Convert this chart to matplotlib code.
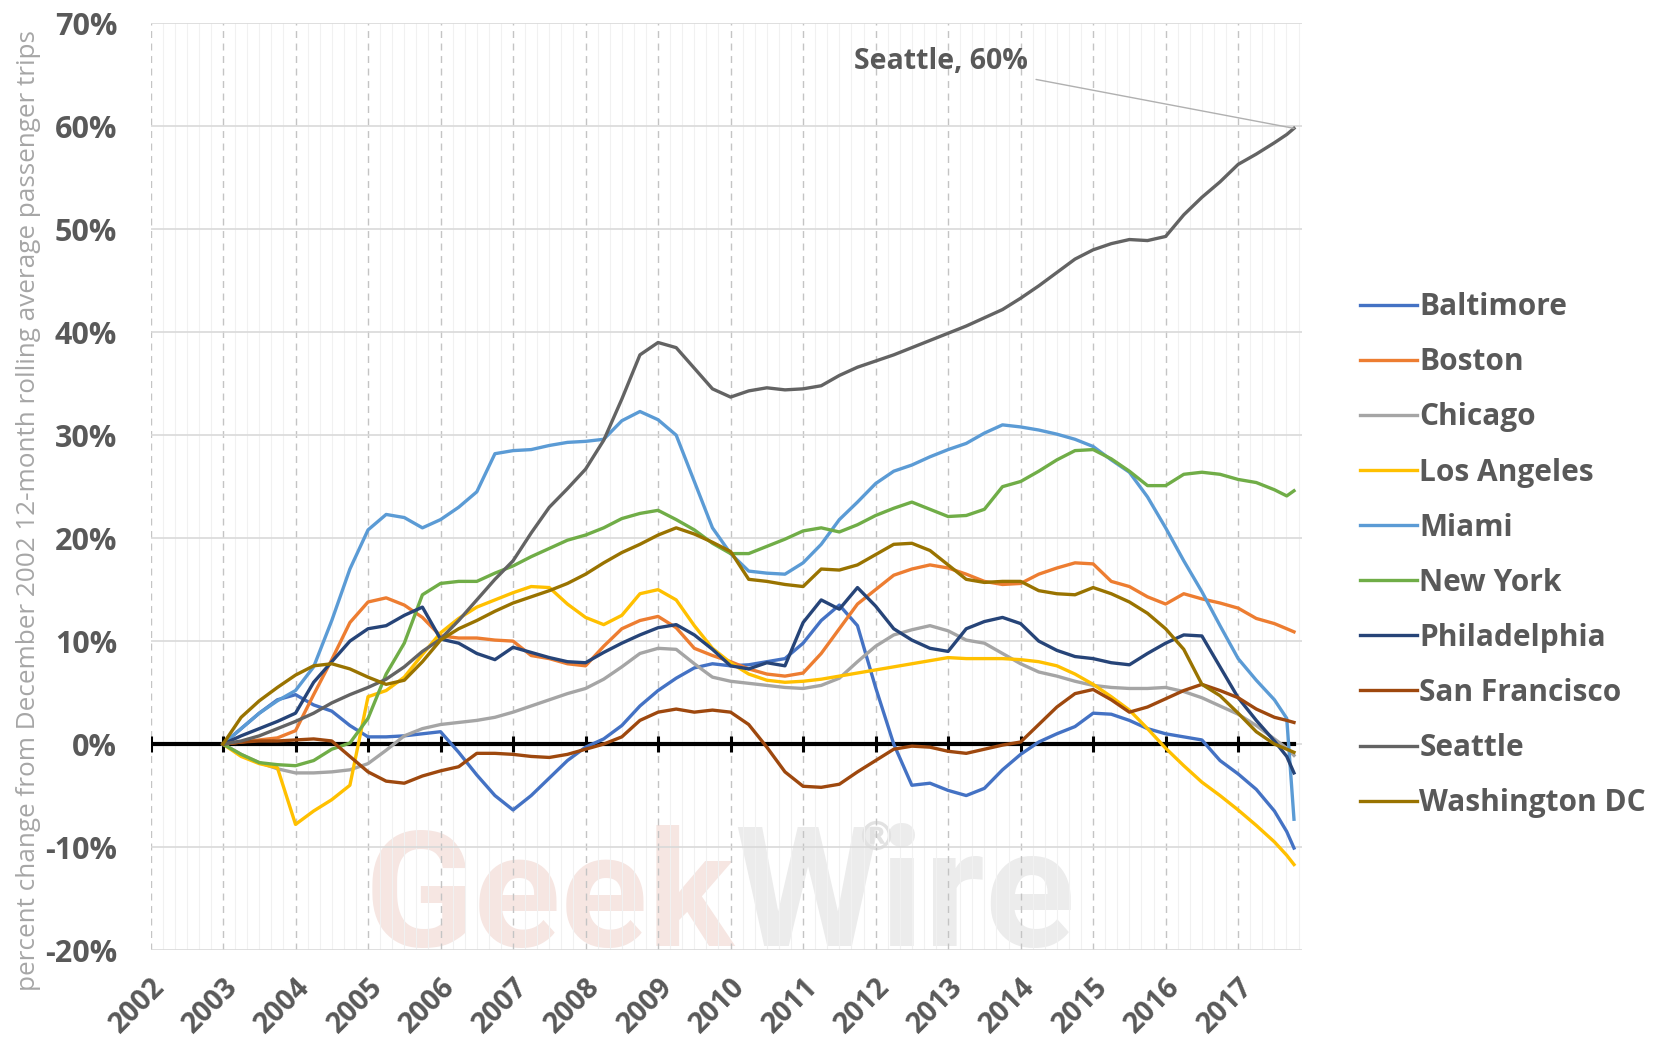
import numpy as np
import matplotlib
matplotlib.use("Agg")
import matplotlib.pyplot as plt
from matplotlib.ticker import FixedLocator, MultipleLocator, FuncFormatter

# ------------------------------------------------------------------ #
# Data (percent change vs Dec 2002), quarterly points
# ------------------------------------------------------------------ #
quarters = list(np.arange(2003.0, 2017.51, 0.25)) + [2017.67, 2017.77]

baltimore = [0, 1.5, 3.0, 4.3,  4.8, 3.8, 3.2, 1.8,  0.7, 0.7, 0.8, 1.0,  1.2, -0.8, -3.0, -5.0,
             -6.4, -5.0, -3.3, -1.6,  -0.3, 0.5, 1.8, 3.7,  5.2, 6.4, 7.4, 7.8,  7.6, 7.7, 8.0, 8.3,
             9.8, 12.0, 13.5, 11.5,  5.5, 0.0, -4.0, -3.8,  -4.5, -5.0, -4.3, -2.5,  -1.0, 0.2, 1.0, 1.7,
             3.0, 2.9, 2.3, 1.5,  1.0, 0.7, 0.4, -1.6,  -2.9, -4.4, -6.5, -8.5, -10.1]
boston = [0, 0.2, 0.4, 0.6,  1.3, 4.8, 8.2, 11.8,  13.8, 14.2, 13.5, 12.3,  10.5, 10.3, 10.3, 10.1,
          10.0, 8.6, 8.3, 7.8,  7.6, 9.5, 11.2, 12.0,  12.4, 11.3, 9.3, 8.6,  8.0, 7.3, 6.8, 6.6,
          6.9, 8.8, 11.2, 13.6,  15.0, 16.4, 17.0, 17.4,  17.1, 16.5, 15.8, 15.5,  15.6, 16.5, 17.1, 17.6,
          17.5, 15.8, 15.3, 14.3,  13.6, 14.6, 14.1, 13.7,  13.2, 12.2, 11.7, 11.2, 10.9]
chicago = [0, -1.0, -1.8, -2.4,  -2.8, -2.8, -2.7, -2.5,  -1.9, -0.6, 0.8, 1.5,  1.9, 2.1, 2.3, 2.6,
           3.1, 3.7, 4.3, 4.9,  5.4, 6.3, 7.5, 8.8,  9.3, 9.2, 7.8, 6.5,  6.1, 5.9, 5.7, 5.5,
           5.4, 5.7, 6.4, 8.0,  9.5, 10.6, 11.1, 11.5,  11.0, 10.1, 9.8, 8.8,  7.8, 7.0, 6.6, 6.1,
           5.7, 5.5, 5.4, 5.4,  5.5, 5.1, 4.5, 3.7,  2.9, 1.8, 0.5, -0.4, -1.1]
los_angeles = [0, -1.2, -1.9, -2.3,  -7.8, -6.5, -5.4, -4.0,  4.6, 5.2, 6.5, 8.7,  10.8, 12.2, 13.3, 14.0,
               14.7, 15.3, 15.2, 13.6,  12.3, 11.6, 12.5, 14.6,  15.0, 14.0, 11.5, 9.3,  7.9, 6.8, 6.2, 6.0,
               6.1, 6.3, 6.6, 6.9,  7.2, 7.5, 7.8, 8.1,  8.4, 8.3, 8.3, 8.3,  8.2, 8.0, 7.6, 6.8,
               5.8, 4.6, 3.3, 1.5,  -0.4, -2.1, -3.7, -5.0,  -6.4, -7.9, -9.5, -10.8, -11.7]
miami = [0, 1.5, 3.0, 4.2,  5.2, 7.5, 12.0, 17.0,  20.8, 22.3, 22.0, 21.0,  21.8, 23.0, 24.5, 28.2,
         28.5, 28.6, 29.0, 29.3,  29.4, 29.6, 31.4, 32.3,  31.5, 30.0, 25.5, 21.0,  18.5, 16.8, 16.6, 16.5,
         17.6, 19.4, 21.8, 23.5,  25.3, 26.5, 27.1, 27.9,  28.6, 29.2, 30.2, 31.0,  30.8, 30.5, 30.1, 29.6,
         28.9, 27.6, 26.4, 24.0,  21.0, 17.8, 14.8, 11.5,  8.3, 6.2, 4.3, 2.5, -7.3]
new_york = [0, -1.0, -1.8, -2.0,  -2.1, -1.6, -0.5, 0.1,  2.5, 6.8, 9.8, 14.5,  15.6, 15.8, 15.8, 16.6,
            17.3, 18.2, 19.0, 19.8,  20.3, 21.0, 21.9, 22.4,  22.7, 21.8, 20.8, 19.5,  18.5, 18.5, 19.2, 19.9,
            20.7, 21.0, 20.6, 21.3,  22.2, 22.9, 23.5, 22.8,  22.1, 22.2, 22.8, 25.0,  25.5, 26.5, 27.6, 28.5,
            28.6, 27.7, 26.5, 25.1,  25.1, 26.2, 26.4, 26.2,  25.7, 25.4, 24.7, 24.1, 24.6]
philadelphia = [0, 0.8, 1.5, 2.2,  3.0, 6.0, 8.0, 10.0,  11.2, 11.5, 12.5, 13.3,  10.2, 9.8, 8.8, 8.2,
                9.4, 8.9, 8.4, 8.0,  7.9, 8.9, 9.8, 10.6,  11.3, 11.6, 10.6, 9.2,  7.6, 7.3, 7.9, 7.6,
                11.8, 14.0, 13.1, 15.2,  13.4, 11.2, 10.1, 9.3,  9.0, 11.2, 11.9, 12.3,  11.7, 10.0, 9.1, 8.5,
                8.3, 7.9, 7.7, 8.8,  9.8, 10.6, 10.5, 7.5,  4.5, 2.3, 0.3, -1.2, -2.8]
san_francisco = [0, 0.2, 0.3, 0.3,  0.4, 0.5, 0.3, -1.2,  -2.7, -3.6, -3.8, -3.1,  -2.6, -2.2, -0.9, -0.9,
                 -1.0, -1.2, -1.3, -1.0,  -0.5, 0.0, 0.7, 2.3,  3.1, 3.4, 3.1, 3.3,  3.1, 1.9, -0.3, -2.7,
                 -4.1, -4.2, -3.9, -2.7,  -1.6, -0.5, -0.2, -0.3,  -0.7, -0.9, -0.5, -0.1,  0.2, 1.9, 3.6, 4.9,
                 5.3, 4.3, 3.1, 3.6,  4.4, 5.2, 5.8, 5.2,  4.5, 3.4, 2.6, 2.3, 2.1]
seattle = [0, 0.3, 0.8, 1.5,  2.2, 3.0, 4.0, 4.8,  5.5, 6.3, 7.5, 9.0,  10.2, 12.0, 14.0, 16.0,
           17.8, 20.5, 23.0, 24.8,  26.7, 29.5, 33.5, 37.8,  39.0, 38.5, 36.5, 34.5,  33.7, 34.3, 34.6, 34.4,
           34.5, 34.8, 35.8, 36.6,  37.2, 37.8, 38.5, 39.2,  39.9, 40.6, 41.4, 42.2,  43.3, 44.5, 45.8, 47.1,
           48.0, 48.6, 49.0, 48.9,  49.3, 51.4, 53.1, 54.6,  56.3, 57.3, 58.4, 59.2, 59.8]
washington_dc = [0, 2.6, 4.2, 5.5,  6.7, 7.6, 7.8, 7.3,  6.5, 5.8, 6.2, 8.0,  10.1, 11.2, 12.0, 12.9,
                 13.7, 14.3, 14.9, 15.6,  16.5, 17.6, 18.6, 19.4,  20.3, 21.0, 20.4, 19.6,  18.7, 16.0, 15.8, 15.5,
                 15.3, 17.0, 16.9, 17.4,  18.4, 19.4, 19.5, 18.8,  17.4, 16.0, 15.7, 15.8,  15.8, 14.9, 14.6, 14.5,
                 15.2, 14.6, 13.8, 12.7,  11.2, 9.2, 5.8, 4.7,  3.0, 1.2, 0.0, -0.5, -0.8]

cities = ["Baltimore", "Boston", "Chicago", "Los Angeles", "Miami",
          "New York", "Philadelphia", "San Francisco", "Seattle", "Washington DC"]
series = [baltimore, boston, chicago, los_angeles, miami,
          new_york, philadelphia, san_francisco, seattle, washington_dc]
colors = ["#4472C4", "#ED7D31", "#A5A5A5", "#FFC000", "#5B9BD5",
          "#70AD47", "#264478", "#9E480E", "#636363", "#997300"]
years = list(range(2002, 2018))

# ------------------------------------------------------------------ #
# Figure
# ------------------------------------------------------------------ #
plt.rcParams['font.family'] = ['Open Sans', 'DejaVu Sans']
textGrey = "#595959"

fig = plt.figure(figsize=(16.63, 10.45), dpi=100)
ax = fig.add_axes([0.0905, 0.0909, 0.6924, 0.8868])

# Watermark (registered sign drawn as a marker so it sits on the "i")
ax.text(2004.95, -19.6, "Geek", fontsize=116, fontweight='bold', family='Roboto',
        color="#f6e6e2", zorder=0.2)
ax.text(2010.05, -19.6, "Wire", fontsize=120, fontweight='bold', family='Roboto',
        color="#ececec", zorder=0.2)
ax.plot(2012.0, -8.8, marker=r"$\circledR$", markersize=20, color="#e2e2e2",
        linestyle="none", zorder=0.2)

# Zero line with year ticks
ax.plot([2002, quarters[-1]], [0, 0], color="black", linewidth=3, zorder=1.5)
ax.plot(years, [0] * len(years), linestyle="none", marker="|", markersize=11,
        markeredgewidth=2.2, color="black", zorder=1.5)

# City lines
for city, values, color in zip(cities, series, colors):
    ax.plot(quarters, values, color=color, linewidth=2.4, label=city, zorder=2)

# Seattle callout
ax.annotate("Seattle, 60%", xy=(quarters[-1], seattle[-1]), xytext=(2012.9, 66.3),
            ha="center", va="center", fontsize=20.5, fontweight="bold", color=textGrey,
            arrowprops=dict(arrowstyle="-", color="#b0b0b0", linewidth=1, shrinkA=4, shrinkB=0))

# Axes limits and ticks
ax.set_xlim(2002, 2017.88)
ax.set_ylim(-20, 70)
ax.xaxis.set_major_locator(FixedLocator(years))
ax.xaxis.set_minor_locator(MultipleLocator(1 / 6))
ax.yaxis.set_major_locator(MultipleLocator(10))
ax.yaxis.set_major_formatter(FuncFormatter(lambda v, p: "%d%%" % v))

ax.grid(axis="y", which="major", color="#d9d9d9", linewidth=1.2)
ax.grid(axis="x", which="major", color="#c4c4c4", linewidth=1, linestyle=(0, (5, 4)))
ax.grid(axis="x", which="minor", color="#f1f1f1", linewidth=0.8)
ax.set_axisbelow(True)

for spine in ax.spines.values():
    spine.set_visible(False)
ax.tick_params(axis="both", which="both", length=0)
ax.tick_params(axis="y", pad=24, labelsize=22, labelcolor=textGrey)
ax.tick_params(axis="x", pad=16, labelsize=20.5, labelcolor=textGrey)
for label in ax.get_yticklabels():
    label.set_fontweight("bold")
for label in ax.get_xticklabels():
    label.set_fontweight("bold")
    label.set_rotation(45)
    label.set_ha("right")
    label.set_rotation_mode("anchor")

ax.set_ylabel("percent change from December 2002 12-month rolling average passenger trips",
              fontsize=18.8, color="#a6a6a6")
ax.yaxis.set_label_coords(-0.095, 0.474)

# Legend
legend = fig.legend(loc="upper left", bbox_to_anchor=(0.8015, 0.746), frameon=False,
                    fontsize=21.5, handlelength=1.9, handletextpad=0.1, labelspacing=0.84)
for text in legend.get_texts():
    text.set_color(textGrey)
    text.set_fontweight("bold")

fig.savefig("out.png", dpi=100)
